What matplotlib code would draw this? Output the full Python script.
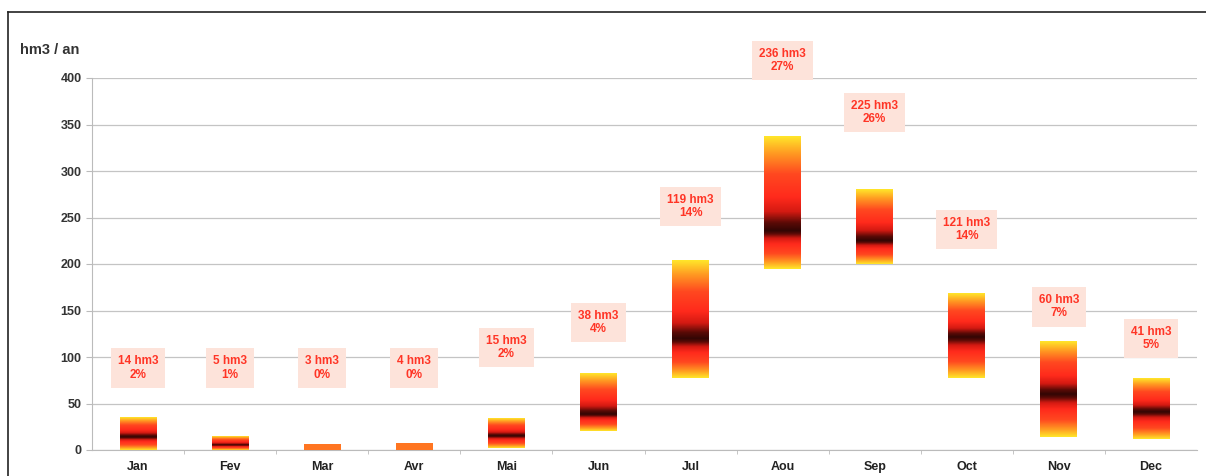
import numpy as np
import matplotlib.pyplot as plt
from matplotlib.colors import LinearSegmentedColormap
from matplotlib.lines import Line2D

plt.rcParams["font.family"] = ["Liberation Sans", "DejaVu Sans"]

months = ["Jan", "Fev", "Mar", "Avr", "Mai", "Jun", "Jul", "Aou", "Sep", "Oct", "Nov", "Dec"]
low = [0, 0, 0, 0, 2, 20, 77, 195, 200, 77, 14, 12]
high = [35, 14, 6, 7, 34, 82, 203, 337, 280, 168, 117, 77]
median = [14, 5, 3, 4, 15, 38, 119, 236, 225, 121, 60, 41]
labels = ["14 hm3\n2%", "5 hm3\n1%", "3 hm3\n0%", "4 hm3\n0%", "15 hm3\n2%", "38 hm3\n4%",
          "119 hm3\n14%", "236 hm3\n27%", "225 hm3\n26%", "121 hm3\n14%", "60 hm3\n7%", "41 hm3\n5%"]
label_y = [88, 88, 88, 88, 110, 137, 262, 419, 363, 237, 154, 120]

cmap = LinearSegmentedColormap.from_list("heat", [
    (0.0, "#330604"), (0.08, "#5a0a06"), (0.2, "#d41a12"), (0.35, "#ff2a1c"),
    (0.6, "#ff4820"), (0.82, "#ff9a22"), (1.0, "#ffe62a")])

fig = plt.figure(figsize=(12.06, 4.76), dpi=100)
ax = fig.add_axes([92 / 1206, 26 / 476, 1105 / 1206, 372 / 476])

w = 0.4
for i in range(len(months)):
    lo, hi, md = low[i], high[i], median[i]
    ys = np.linspace(lo, hi, 300)
    t = np.where(ys >= md, (ys - md) / max(hi - md, 1e-9), (md - ys) / max(md - lo, 1e-9))
    if hi - lo < 10:
        t = np.full_like(ys, 0.72)
    ax.imshow(t[:, None], cmap=cmap, vmin=0, vmax=1, aspect="auto", origin="lower",
              extent=(i - w / 2, i + w / 2, lo, hi), interpolation="bilinear", zorder=3)
    ax.text(i, label_y[i], labels[i], ha="center", va="center", color="#ff3526",
            fontsize=8.5, fontweight="bold", linespacing=1.15, zorder=4,
            bbox=dict(boxstyle="square,pad=0.6", fc="#fde3da", ec="none"))

ax.set_xlim(-0.5, len(months) - 0.5)
ax.set_ylim(0, 400)
ax.set_yticks(range(0, 401, 50))
ax.set_xticks(range(len(months)))
ax.set_xticklabels(months)
ax.set_xticks(np.arange(0.5, len(months) - 0.5, 1), minor=True)
ax.tick_params(axis="x", which="major", length=0, pad=8, labelsize=9, labelcolor="#222222")
ax.tick_params(axis="x", which="minor", length=3, color="#bbbbbb", direction="out")
ax.tick_params(axis="y", length=4, color="#bbbbbb", labelsize=9, labelcolor="#333333")
for lab in ax.get_xticklabels() + ax.get_yticklabels():
    lab.set_fontweight("bold")
ax.grid(axis="y", color="#c4c4c4", linewidth=0.9, zorder=0)
ax.set_axisbelow(True)
for s in ["top", "right"]:
    ax.spines[s].set_visible(False)
ax.spines["left"].set_color("#bbbbbb")
ax.spines["bottom"].set_color("#bbbbbb")

fig.text(20 / 1206, 1 - 50 / 476, "hm3 / an", fontsize=10.5, fontweight="bold", color="#333333",
         va="center", ha="left")
fig.add_artist(Line2D([8 / 1206, 1], [1 - 12 / 476, 1 - 12 / 476], color="#222222", lw=1.2))
fig.add_artist(Line2D([8 / 1206, 8 / 1206], [0, 1 - 12 / 476], color="#222222", lw=1.2))

fig.savefig("out.png", dpi=100)
